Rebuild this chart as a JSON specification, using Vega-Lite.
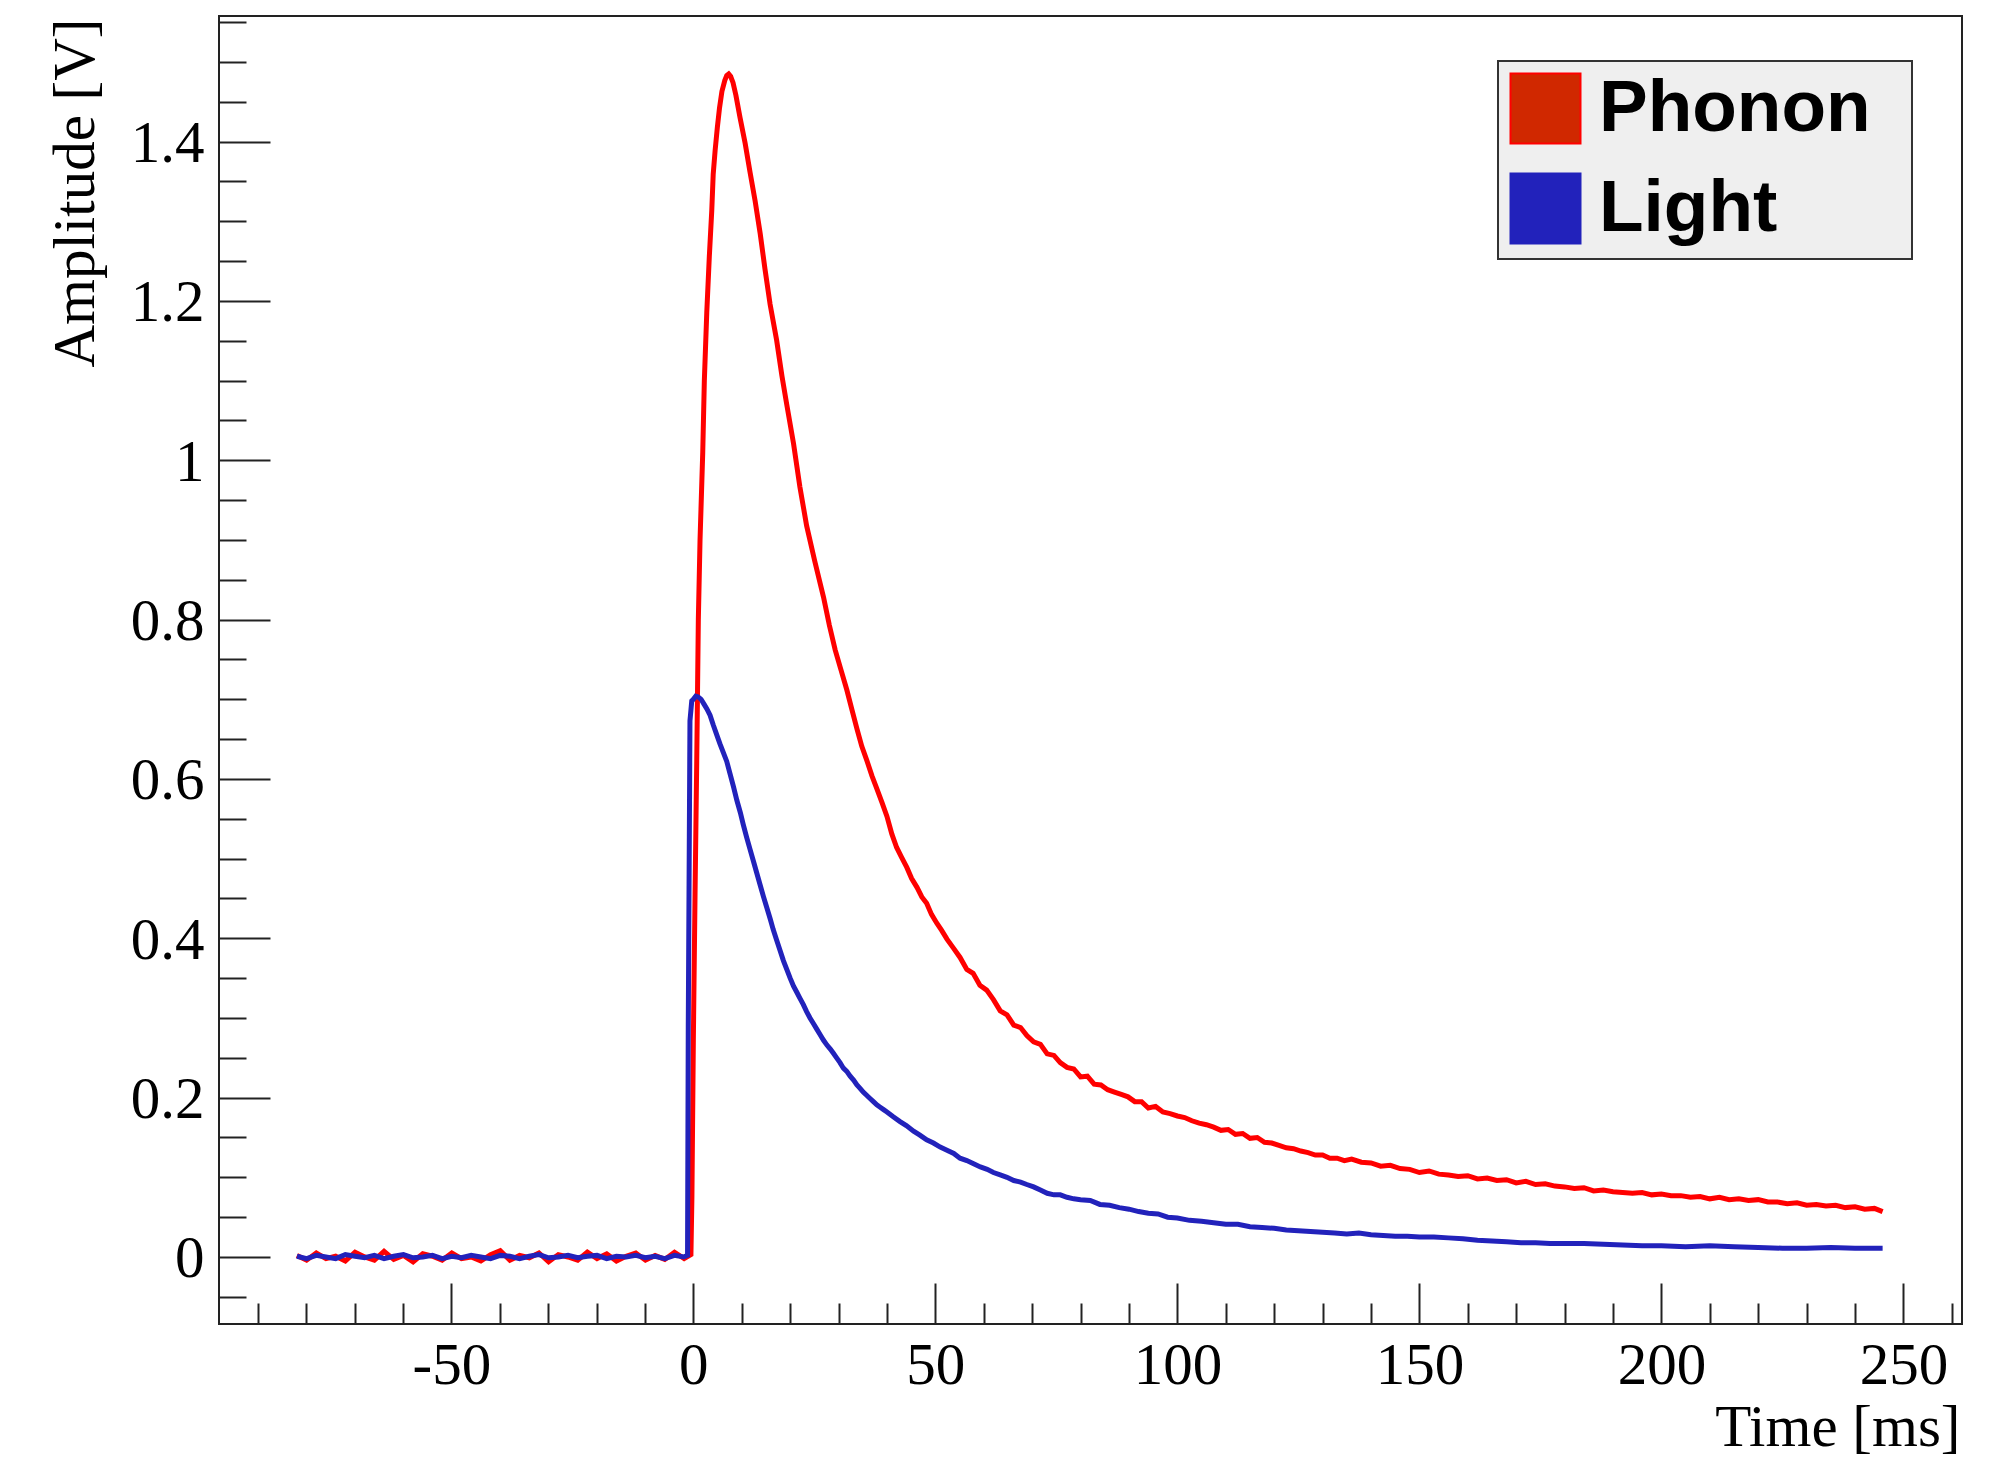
{
  "$schema": "https://vega.github.io/schema/vega-lite/v6.json",
  "width": 1743,
  "height": 1308,
  "autosize": {"type": "none"},
  "padding": {"left": 219, "top": 16, "right": 50, "bottom": 134},
  "background": "white",
  "config": {
    "view": {"stroke": "#222", "strokeWidth": 2},
    "font": "Liberation Serif"
  },
  "data": {"values": [
    {"series":"Phonon","t":-81.9,"v":0.002},{"series":"Phonon","t":-79.9,"v":-0.004},{"series":"Phonon","t":-77.9,"v":0.005},{"series":"Phonon","t":-75.9,"v":-0.002},{"series":"Phonon","t":-73.9,"v":0.001},{"series":"Phonon","t":-71.9,"v":-0.005},{"series":"Phonon","t":-69.9,"v":0.006},{"series":"Phonon","t":-67.9,"v":0.0},{"series":"Phonon","t":-65.9,"v":-0.004},{"series":"Phonon","t":-63.9,"v":0.007},{"series":"Phonon","t":-61.9,"v":-0.003},{"series":"Phonon","t":-59.9,"v":0.002},{"series":"Phonon","t":-57.9,"v":-0.006},{"series":"Phonon","t":-55.9,"v":0.004},{"series":"Phonon","t":-53.9,"v":0.001},{"series":"Phonon","t":-51.9,"v":-0.004},{"series":"Phonon","t":-49.9,"v":0.005},{"series":"Phonon","t":-47.9,"v":-0.002},{"series":"Phonon","t":-45.9,"v":0.0},{"series":"Phonon","t":-43.9,"v":-0.005},{"series":"Phonon","t":-41.9,"v":0.003},{"series":"Phonon","t":-39.9,"v":0.008},{"series":"Phonon","t":-37.9,"v":-0.004},{"series":"Phonon","t":-35.9,"v":0.002},{"series":"Phonon","t":-33.9,"v":-0.001},{"series":"Phonon","t":-31.9,"v":0.005},{"series":"Phonon","t":-29.9,"v":-0.006},{"series":"Phonon","t":-27.9,"v":0.003},{"series":"Phonon","t":-25.9,"v":0.0},{"series":"Phonon","t":-23.9,"v":-0.004},{"series":"Phonon","t":-21.9,"v":0.006},{"series":"Phonon","t":-19.9,"v":-0.002},{"series":"Phonon","t":-17.9,"v":0.004},{"series":"Phonon","t":-15.9,"v":-0.005},{"series":"Phonon","t":-13.9,"v":0.001},{"series":"Phonon","t":-11.9,"v":0.005},{"series":"Phonon","t":-9.9,"v":-0.004},{"series":"Phonon","t":-7.9,"v":0.002},{"series":"Phonon","t":-5.9,"v":-0.003},{"series":"Phonon","t":-3.9,"v":0.006},{"series":"Phonon","t":-1.9,"v":-0.002},{"series":"Phonon","t":-0.5,"v":0.003},
    {"series":"Phonon","t":-0.3,"v":0.074},{"series":"Phonon","t":0.0,"v":0.273},{"series":"Phonon","t":0.35,"v":0.455},{"series":"Phonon","t":0.7,"v":0.623},{"series":"Phonon","t":1.03,"v":0.8},{"series":"Phonon","t":1.38,"v":0.9},{"series":"Phonon","t":1.94,"v":1.01},{"series":"Phonon","t":2.27,"v":1.1},{"series":"Phonon","t":2.77,"v":1.185},{"series":"Phonon","t":3.3,"v":1.256},{"series":"Phonon","t":3.8,"v":1.313},{"series":"Phonon","t":4.1,"v":1.359},{"series":"Phonon","t":4.5,"v":1.389},{"series":"Phonon","t":4.96,"v":1.418},{"series":"Phonon","t":5.4,"v":1.442},{"series":"Phonon","t":5.9,"v":1.463},{"series":"Phonon","t":6.5,"v":1.477},{"series":"Phonon","t":6.9,"v":1.483},{"series":"Phonon","t":7.3,"v":1.485},{"series":"Phonon","t":7.7,"v":1.482},{"series":"Phonon","t":8.2,"v":1.474},{"series":"Phonon","t":8.8,"v":1.458},{"series":"Phonon","t":9.65,"v":1.43},{"series":"Phonon","t":10.7,"v":1.398},{"series":"Phonon","t":11.7,"v":1.362},{"series":"Phonon","t":12.75,"v":1.326},{"series":"Phonon","t":13.8,"v":1.285},{"series":"Phonon","t":14.8,"v":1.24},{"series":"Phonon","t":15.85,"v":1.196},{"series":"Phonon","t":17.2,"v":1.151},{"series":"Phonon","t":18.3,"v":1.106},{"series":"Phonon","t":19.3,"v":1.07},{"series":"Phonon","t":20.7,"v":1.021},{"series":"Phonon","t":22.0,"v":0.967},{"series":"Phonon","t":23.4,"v":0.918},{"series":"Phonon","t":25.1,"v":0.873},{"series":"Phonon","t":26.9,"v":0.828},{"series":"Phonon","t":28.1,"v":0.793},{"series":"Phonon","t":29.3,"v":0.762},{"series":"Phonon","t":30.5,"v":0.737},{"series":"Phonon","t":31.7,"v":0.712},{"series":"Phonon","t":32.8,"v":0.686},{"series":"Phonon","t":33.8,"v":0.663},{"series":"Phonon","t":34.8,"v":0.641},{"series":"Phonon","t":35.8,"v":0.624},{"series":"Phonon","t":36.9,"v":0.604},{"series":"Phonon","t":37.9,"v":0.588},{"series":"Phonon","t":39.0,"v":0.57},{"series":"Phonon","t":40.0,"v":0.553},{"series":"Phonon","t":41.0,"v":0.531},{"series":"Phonon","t":42.0,"v":0.514},{"series":"Phonon","t":43.0,"v":0.502},{"series":"Phonon","t":44.1,"v":0.489},{"series":"Phonon","t":45.1,"v":0.475},{"series":"Phonon","t":46.2,"v":0.464},{"series":"Phonon","t":47.2,"v":0.452},{"series":"Phonon","t":48.2,"v":0.444},{"series":"Phonon","t":49.2,"v":0.43},{"series":"Phonon","t":50.3,"v":0.419},{"series":"Phonon","t":51.3,"v":0.41},{"series":"Phonon","t":52.4,"v":0.399},
    {"series":"Phonon","t":53.7,"v":0.388},{"series":"Phonon","t":55.1,"v":0.376},{"series":"Phonon","t":56.5,"v":0.361},{"series":"Phonon","t":57.8,"v":0.356},{"series":"Phonon","t":59.2,"v":0.341},{"series":"Phonon","t":60.6,"v":0.335},{"series":"Phonon","t":62.0,"v":0.323},{"series":"Phonon","t":63.4,"v":0.309},{"series":"Phonon","t":64.8,"v":0.304},{"series":"Phonon","t":66.2,"v":0.291},{"series":"Phonon","t":67.6,"v":0.288},{"series":"Phonon","t":68.9,"v":0.278},{"series":"Phonon","t":70.3,"v":0.27},{"series":"Phonon","t":71.7,"v":0.267},{"series":"Phonon","t":73.1,"v":0.255},{"series":"Phonon","t":74.5,"v":0.253},{"series":"Phonon","t":75.8,"v":0.244},{"series":"Phonon","t":77.2,"v":0.238},{"series":"Phonon","t":78.6,"v":0.236},{"series":"Phonon","t":80.0,"v":0.226},{"series":"Phonon","t":81.4,"v":0.227},{"series":"Phonon","t":82.8,"v":0.217},{"series":"Phonon","t":84.2,"v":0.216},{"series":"Phonon","t":85.6,"v":0.21},{"series":"Phonon","t":87.0,"v":0.207},{"series":"Phonon","t":88.4,"v":0.204},{"series":"Phonon","t":89.8,"v":0.201},{"series":"Phonon","t":91.2,"v":0.195},{"series":"Phonon","t":92.6,"v":0.195},{"series":"Phonon","t":94.0,"v":0.187},{"series":"Phonon","t":95.5,"v":0.189},{"series":"Phonon","t":97.0,"v":0.182},{"series":"Phonon","t":98.5,"v":0.18},{"series":"Phonon","t":100.0,"v":0.177},{"series":"Phonon","t":101.5,"v":0.175},{"series":"Phonon","t":103.0,"v":0.171},{"series":"Phonon","t":104.5,"v":0.168},{"series":"Phonon","t":106.0,"v":0.166},{"series":"Phonon","t":107.5,"v":0.163},{"series":"Phonon","t":109.0,"v":0.159},{"series":"Phonon","t":110.5,"v":0.16},{"series":"Phonon","t":112.0,"v":0.154},{"series":"Phonon","t":113.5,"v":0.155},{"series":"Phonon","t":115.0,"v":0.149},{"series":"Phonon","t":116.5,"v":0.15},{"series":"Phonon","t":118.0,"v":0.144},{"series":"Phonon","t":119.5,"v":0.143},{"series":"Phonon","t":121.0,"v":0.14},{"series":"Phonon","t":122.5,"v":0.137},{"series":"Phonon","t":124.0,"v":0.136},{"series":"Phonon","t":125.5,"v":0.133},{"series":"Phonon","t":127.0,"v":0.131},{"series":"Phonon","t":128.5,"v":0.128},{"series":"Phonon","t":130.0,"v":0.128},{"series":"Phonon","t":131.5,"v":0.124},{"series":"Phonon","t":133.0,"v":0.124},{"series":"Phonon","t":134.5,"v":0.121},{"series":"Phonon","t":136.0,"v":0.123},{"series":"Phonon","t":138.0,"v":0.119},{"series":"Phonon","t":140.0,"v":0.118},{"series":"Phonon","t":142.0,"v":0.114},{"series":"Phonon","t":144.0,"v":0.115},{"series":"Phonon","t":146.0,"v":0.111},{"series":"Phonon","t":148.0,"v":0.11},{"series":"Phonon","t":150.0,"v":0.106},{"series":"Phonon","t":152.0,"v":0.108},{"series":"Phonon","t":154.0,"v":0.104},{"series":"Phonon","t":156.0,"v":0.103},{"series":"Phonon","t":158.0,"v":0.101},{"series":"Phonon","t":160.0,"v":0.102},{"series":"Phonon","t":162.0,"v":0.098},{"series":"Phonon","t":164.0,"v":0.099},{"series":"Phonon","t":166.0,"v":0.096},{"series":"Phonon","t":168.0,"v":0.097},{"series":"Phonon","t":170.0,"v":0.093},{"series":"Phonon","t":172.0,"v":0.095},{"series":"Phonon","t":174.0,"v":0.091},{"series":"Phonon","t":176.0,"v":0.092},{"series":"Phonon","t":178.0,"v":0.089},{"series":"Phonon","t":180.0,"v":0.088},{"series":"Phonon","t":182.0,"v":0.086},{"series":"Phonon","t":184.0,"v":0.087},{"series":"Phonon","t":186.0,"v":0.083},{"series":"Phonon","t":188.0,"v":0.084},{"series":"Phonon","t":190.0,"v":0.082},{"series":"Phonon","t":192.0,"v":0.081},{"series":"Phonon","t":194.0,"v":0.08},{"series":"Phonon","t":196.0,"v":0.081},{"series":"Phonon","t":198.0,"v":0.078},{"series":"Phonon","t":200.0,"v":0.079},{"series":"Phonon","t":202.0,"v":0.077},{"series":"Phonon","t":204.0,"v":0.077},{"series":"Phonon","t":206.0,"v":0.075},{"series":"Phonon","t":208.0,"v":0.076},{"series":"Phonon","t":210.0,"v":0.073},{"series":"Phonon","t":212.0,"v":0.075},{"series":"Phonon","t":214.0,"v":0.072},{"series":"Phonon","t":216.0,"v":0.073},{"series":"Phonon","t":218.0,"v":0.071},{"series":"Phonon","t":220.0,"v":0.072},{"series":"Phonon","t":222.0,"v":0.069},{"series":"Phonon","t":224.0,"v":0.069},{"series":"Phonon","t":226.0,"v":0.067},{"series":"Phonon","t":228.0,"v":0.068},{"series":"Phonon","t":230.0,"v":0.065},{"series":"Phonon","t":232.0,"v":0.066},{"series":"Phonon","t":234.0,"v":0.064},{"series":"Phonon","t":236.0,"v":0.065},{"series":"Phonon","t":238.0,"v":0.062},{"series":"Phonon","t":240.0,"v":0.063},{"series":"Phonon","t":242.0,"v":0.06},{"series":"Phonon","t":244.0,"v":0.061},{"series":"Phonon","t":245.7,"v":0.057},
    {"series":"Light","t":-81.9,"v":0.001},{"series":"Light","t":-79.9,"v":-0.002},{"series":"Light","t":-77.9,"v":0.002},{"series":"Light","t":-75.9,"v":0.0},{"series":"Light","t":-73.9,"v":-0.002},{"series":"Light","t":-71.9,"v":0.003},{"series":"Light","t":-69.9,"v":0.001},{"series":"Light","t":-67.9,"v":-0.001},{"series":"Light","t":-65.9,"v":0.002},{"series":"Light","t":-63.9,"v":-0.002},{"series":"Light","t":-61.9,"v":0.001},{"series":"Light","t":-59.9,"v":0.003},{"series":"Light","t":-57.9,"v":-0.001},{"series":"Light","t":-55.9,"v":0.0},{"series":"Light","t":-53.9,"v":0.002},{"series":"Light","t":-51.9,"v":-0.002},{"series":"Light","t":-49.9,"v":0.001},{"series":"Light","t":-47.9,"v":-0.001},{"series":"Light","t":-45.9,"v":0.002},{"series":"Light","t":-43.9,"v":0.0},{"series":"Light","t":-41.9,"v":-0.002},{"series":"Light","t":-39.9,"v":0.002},{"series":"Light","t":-37.9,"v":0.001},{"series":"Light","t":-35.9,"v":-0.002},{"series":"Light","t":-33.9,"v":0.001},{"series":"Light","t":-31.9,"v":0.003},{"series":"Light","t":-29.9,"v":-0.001},{"series":"Light","t":-27.9,"v":0.0},{"series":"Light","t":-25.9,"v":0.002},{"series":"Light","t":-23.9,"v":-0.001},{"series":"Light","t":-21.9,"v":0.001},{"series":"Light","t":-19.9,"v":0.002},{"series":"Light","t":-17.9,"v":-0.002},{"series":"Light","t":-15.9,"v":0.001},{"series":"Light","t":-13.9,"v":0.0},{"series":"Light","t":-11.9,"v":0.002},{"series":"Light","t":-9.9,"v":-0.001},{"series":"Light","t":-7.9,"v":0.001},{"series":"Light","t":-5.9,"v":-0.002},{"series":"Light","t":-3.9,"v":0.002},{"series":"Light","t":-2.0,"v":0.0},{"series":"Light","t":-1.2,"v":0.002},
    {"series":"Light","t":-1.05,"v":0.29},{"series":"Light","t":-0.7,"v":0.673},{"series":"Light","t":-0.33,"v":0.698},{"series":"Light","t":0.0,"v":0.7},{"series":"Light","t":0.5,"v":0.704},{"series":"Light","t":1.0,"v":0.703},{"series":"Light","t":1.6,"v":0.7},{"series":"Light","t":2.2,"v":0.694},{"series":"Light","t":2.8,"v":0.688},{"series":"Light","t":3.45,"v":0.68},{"series":"Light","t":4.1,"v":0.668},{"series":"Light","t":4.8,"v":0.656},{"series":"Light","t":5.5,"v":0.644},{"series":"Light","t":6.2,"v":0.633},{"series":"Light","t":6.9,"v":0.622},{"series":"Light","t":7.6,"v":0.606},{"series":"Light","t":8.3,"v":0.59},{"series":"Light","t":9.0,"v":0.573},{"series":"Light","t":9.7,"v":0.558},{"series":"Light","t":10.3,"v":0.543},{"series":"Light","t":11.0,"v":0.527},{"series":"Light","t":11.7,"v":0.512},{"series":"Light","t":12.4,"v":0.497},{"series":"Light","t":13.1,"v":0.482},{"series":"Light","t":13.8,"v":0.467},{"series":"Light","t":14.5,"v":0.452},{"series":"Light","t":15.2,"v":0.438},{"series":"Light","t":15.9,"v":0.424},{"series":"Light","t":16.5,"v":0.411},{"series":"Light","t":17.2,"v":0.398},{"series":"Light","t":17.9,"v":0.385},{"series":"Light","t":18.6,"v":0.372},{"series":"Light","t":19.3,"v":0.361},{"series":"Light","t":20.0,"v":0.35},{"series":"Light","t":20.7,"v":0.34},{"series":"Light","t":21.4,"v":0.332},{"series":"Light","t":22.0,"v":0.325},{"series":"Light","t":22.7,"v":0.317},{"series":"Light","t":23.4,"v":0.308},{"series":"Light","t":24.1,"v":0.3},{"series":"Light","t":24.8,"v":0.293},{"series":"Light","t":25.5,"v":0.286},{"series":"Light","t":26.2,"v":0.279},{"series":"Light","t":26.9,"v":0.272},{"series":"Light","t":27.6,"v":0.266},{"series":"Light","t":28.3,"v":0.261},{"series":"Light","t":28.9,"v":0.256},{"series":"Light","t":29.6,"v":0.25},{"series":"Light","t":30.3,"v":0.244},{"series":"Light","t":31.0,"v":0.237},{"series":"Light","t":31.7,"v":0.233},{"series":"Light","t":32.4,"v":0.227},{"series":"Light","t":33.1,"v":0.222},{"series":"Light","t":33.8,"v":0.216},{"series":"Light","t":34.4,"v":0.212},{"series":"Light","t":35.1,"v":0.207},{"series":"Light","t":35.8,"v":0.203},{"series":"Light","t":36.5,"v":0.199},{"series":"Light","t":37.2,"v":0.195},{"series":"Light","t":37.9,"v":0.191},{"series":"Light","t":38.6,"v":0.188},{"series":"Light","t":39.3,"v":0.185},{"series":"Light","t":40.0,"v":0.182},{"series":"Light","t":41.3,"v":0.176},{"series":"Light","t":42.7,"v":0.17},{"series":"Light","t":44.0,"v":0.165},{"series":"Light","t":45.5,"v":0.158},{"series":"Light","t":46.8,"v":0.153},{"series":"Light","t":48.2,"v":0.147},{"series":"Light","t":49.6,"v":0.143},{"series":"Light","t":51.0,"v":0.138},{"series":"Light","t":52.4,"v":0.134},{"series":"Light","t":53.8,"v":0.13},{"series":"Light","t":55.1,"v":0.124},{"series":"Light","t":56.5,"v":0.121},{"series":"Light","t":57.9,"v":0.117},{"series":"Light","t":59.3,"v":0.113},{"series":"Light","t":60.7,"v":0.11},{"series":"Light","t":62.0,"v":0.106},{"series":"Light","t":63.4,"v":0.103},{"series":"Light","t":64.8,"v":0.1},{"series":"Light","t":66.2,"v":0.096},{"series":"Light","t":67.6,"v":0.094},{"series":"Light","t":68.9,"v":0.091},{"series":"Light","t":70.3,"v":0.088},{"series":"Light","t":71.7,"v":0.084},{"series":"Light","t":73.1,"v":0.08},{"series":"Light","t":74.5,"v":0.078},{"series":"Light","t":75.8,"v":0.078},{"series":"Light","t":77.2,"v":0.075},{"series":"Light","t":78.6,"v":0.073},{"series":"Light","t":80.0,"v":0.072},{"series":"Light","t":82.0,"v":0.071},{"series":"Light","t":84.0,"v":0.066},{"series":"Light","t":86.0,"v":0.065},{"series":"Light","t":88.0,"v":0.062},{"series":"Light","t":90.0,"v":0.06},{"series":"Light","t":92.0,"v":0.057},{"series":"Light","t":94.0,"v":0.055},{"series":"Light","t":96.0,"v":0.054},{"series":"Light","t":98.0,"v":0.05},{"series":"Light","t":100.0,"v":0.049},{"series":"Light","t":102.5,"v":0.046},{"series":"Light","t":105.0,"v":0.045},{"series":"Light","t":107.5,"v":0.043},{"series":"Light","t":110.0,"v":0.041},{"series":"Light","t":112.5,"v":0.041},{"series":"Light","t":115.0,"v":0.038},{"series":"Light","t":117.5,"v":0.037},{"series":"Light","t":120.0,"v":0.036},{"series":"Light","t":122.5,"v":0.034},{"series":"Light","t":125.0,"v":0.033},{"series":"Light","t":127.5,"v":0.032},{"series":"Light","t":130.0,"v":0.031},{"series":"Light","t":132.5,"v":0.03},{"series":"Light","t":135.0,"v":0.029},{"series":"Light","t":137.5,"v":0.03},{"series":"Light","t":140.0,"v":0.028},{"series":"Light","t":142.5,"v":0.027},{"series":"Light","t":145.0,"v":0.026},{"series":"Light","t":147.5,"v":0.026},{"series":"Light","t":150.0,"v":0.025},{"series":"Light","t":153.0,"v":0.025},{"series":"Light","t":156.0,"v":0.024},{"series":"Light","t":159.0,"v":0.023},{"series":"Light","t":162.0,"v":0.021},{"series":"Light","t":165.0,"v":0.02},{"series":"Light","t":168.0,"v":0.019},{"series":"Light","t":171.0,"v":0.018},{"series":"Light","t":174.0,"v":0.018},{"series":"Light","t":177.0,"v":0.017},{"series":"Light","t":180.0,"v":0.017},{"series":"Light","t":184.0,"v":0.017},{"series":"Light","t":188.0,"v":0.016},{"series":"Light","t":192.0,"v":0.015},{"series":"Light","t":196.0,"v":0.014},{"series":"Light","t":200.0,"v":0.014},{"series":"Light","t":205.0,"v":0.013},{"series":"Light","t":210.0,"v":0.014},{"series":"Light","t":215.0,"v":0.013},{"series":"Light","t":220.0,"v":0.012},{"series":"Light","t":225.0,"v":0.011},{"series":"Light","t":230.0,"v":0.011},{"series":"Light","t":235.0,"v":0.012},{"series":"Light","t":240.0,"v":0.011},{"series":"Light","t":245.7,"v":0.011}
  ]},
  "mark": {"type": "line", "strokeWidth": 5, "interpolate": "linear"},
  "encoding": {
    "x": {
      "field": "t", "type": "quantitative",
      "scale": {"domain": [-98.0, 262.1], "nice": false, "zero": false},
      "axis": {
        "values": [-90,-80,-70,-60,-50,-40,-30,-20,-10,0,10,20,30,40,50,60,70,80,90,100,110,120,130,140,150,160,170,180,190,200,210,220,230,240,250,260],
        "labelExpr": "datum.value % 50 === 0 ? '' + datum.value : ''",
        "tickSize": {"condition": {"test": "datum.value % 50 === 0", "value": -41}, "value": -21},
        "tickColor": "#222", "tickWidth": 2,
        "domain": false, "grid": false,
        "labelFont": "Liberation Serif", "labelFontSize": 59, "labelColor": "#000",
        "labelBaseline": "alphabetic", "labelAlign": "center", "labelPadding": 100,
        "labelOverlap": false, "labelBound": false, "labelFlush": false,
        "title": "Time [ms]", "titleFont": "Liberation Serif", "titleFontSize": 59, "titleFontWeight": "normal", "titleColor": "#000",
        "titleX": 1741, "titleY": 121, "titleAlign": "right", "titleBaseline": "alphabetic", "titleAnchor": "end"
      }
    },
    "y": {
      "field": "v", "type": "quantitative",
      "scale": {"domain": [-0.0841, 1.5577], "nice": false, "zero": false},
      "axis": {
        "values": [-0.05,0,0.05,0.1,0.15,0.2,0.25,0.3,0.35,0.4,0.45,0.5,0.55,0.6,0.65,0.7,0.75,0.8,0.85,0.9,0.95,1,1.05,1.1,1.15,1.2,1.25,1.3,1.35,1.4,1.45,1.5,1.55],
        "labelExpr": "abs(datum.value*5 - round(datum.value*5)) < 0.001 ? format(datum.value, '.1~f') : ''",
        "tickSize": {"condition": {"test": "abs(datum.value*5 - round(datum.value*5)) < 0.001", "value": -51}, "value": -27},
        "tickColor": "#222", "tickWidth": 2,
        "domain": false, "grid": false,
        "labelFont": "Liberation Serif", "labelFontSize": 59, "labelColor": "#000",
        "labelBaseline": "alphabetic", "labelAlign": "right", "labelPadding": 66, "labelOffset": 20,
        "labelOverlap": false, "labelBound": false, "labelFlush": false,
        "title": "Amplitude [V]", "titleFont": "Liberation Serif", "titleFontSize": 59, "titleFontWeight": "normal", "titleColor": "#000",
        "titleX": -126, "titleY": 2, "titleAngle": 270, "titleAlign": "right", "titleBaseline": "alphabetic", "titleAnchor": "end"
      }
    },
    "color": {
      "field": "series", "type": "nominal",
      "scale": {"domain": ["Phonon", "Light"], "range": ["#ff0000", "#2222bb"]},
      "legend": {
        "orient": "none", "legendX": 1279, "legendY": 45,
        "title": " ", "titleOrient": "right", "titleFontSize": 20, "titlePadding": 30,
        "symbolType": "square", "symbolSize": 4900, "symbolStrokeWidth": 2,
        "labelFont": "Liberation Sans", "labelFontWeight": "bold", "labelFontSize": 73, "labelColor": "#000",
        "labelLimit": 0,
        "labelOffset": 17, "rowPadding": 21, "padding": 11,
        "fillColor": "#efefef", "strokeColor": "#333",
        "encode": {
          "symbols": {"update": {
            "fill": {"signal": "datum.value === 'Phonon' ? '#d02800' : '#2222bb'"},
            "stroke": {"value": "#222"},
            "strokeWidth": {"value": 2},
            "opacity": {"value": 1},
            "fillOpacity": {"value": 1}
          }},
          "legend": {"update": {"strokeWidth": {"value": 2}}}
        }
      }
    }
  }
}
